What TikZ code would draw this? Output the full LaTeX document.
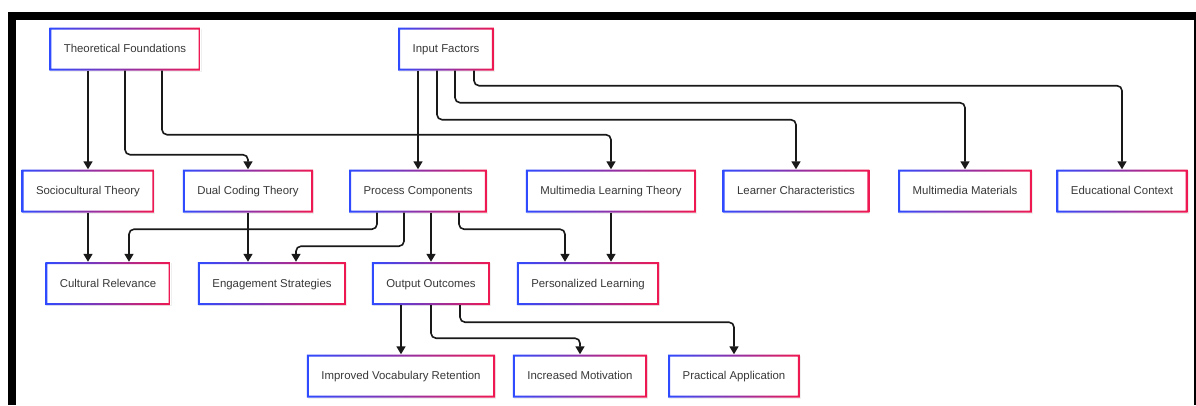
\documentclass[tikz,border=0pt]{standalone}
\usepackage{fontspec}
\setmainfont{Liberation Sans}
\usepackage{xcolor}
\usepackage{tikz}
\usetikzlibrary{arrows.meta}
\usetikzlibrary{shadows}
\definecolor{edgeBlue}{HTML}{2F4BFF}
\definecolor{edgeRed}{HTML}{F01850}
\colorlet{label}{black!78}
\colorlet{wire}{black!90}
\tikzset{
  % node options
  box/.style={rectangle,fill=white,text=label,
    font=\fontsize{11.4}{13}\selectfont,
    text height=9.5pt,text depth=2pt,
    minimum height=43pt,inner xsep=14.5pt,
    drop shadow={opacity=0.12,shadow xshift=1pt,shadow yshift=-1pt},
    path picture={
      \shade[left color=edgeBlue,right color=edgeRed,even odd rule]
        (path picture bounding box.south west) rectangle (path picture bounding box.north east)
        ([shift={(2pt,2pt)}]path picture bounding box.south west)
        rectangle ([shift={(-2pt,-2pt)}]path picture bounding box.north east);
    }},
  % path options
  flow/.style={draw=wire,line width=1.6pt,rounded corners=5pt,
    -{Triangle[width=9pt,length=8pt]}},
}

\begin{document}
\begin{tikzpicture}[x=1pt,y=-1pt]
  \useasboundingbox[fill=white] (0,0) rectangle (1196,405);
  \fill[black] (8,12) rectangle (1196,20);
  \fill[black] (8,12) rectangle (16,405);
  \fill[black] (1194,12) rectangle (1196,405);

  \node[box] (tf) at (125,49) {Theoretical Foundations};
  \node[box] (input) at (446,49) {Input Factors};

  \node[box] (sct) at (88,191) {Sociocultural Theory};
  \node[box] (dct) at (248,191) {Dual Coding Theory};
  \node[box] (pc) at (418,191) {Process Components};
  \node[box] (mlt) at (611,191) {Multimedia Learning Theory};
  \node[box] (lc) at (796,191) {Learner Characteristics};
  \node[box] (mm) at (965,191) {Multimedia Materials};
  \node[box] (ec) at (1122,191) {Educational Context};

  \node[box] (cr) at (108,283.5) {Cultural Relevance};
  \node[box] (es) at (272,283.5) {Engagement Strategies};
  \node[box] (oo) at (431,283.5) {Output Outcomes};
  \node[box] (pl) at (588,283.5) {Personalized Learning};

  \node[box] (ivr) at (401,376) {Improved Vocabulary Retention};
  \node[box] (im) at (580,376) {Increased Motivation};
  \node[box] (pa) at (734,376) {Practical Application};

  % theories
  \draw[flow] (tf.south -| sct.north) -- (sct.north);
  \draw[flow] (tf.south) -- ++(0,84) -| (dct.north);
  \draw[flow] ([xshift=37pt]tf.south) -- ++(0,64) -| (mlt.north);

  % inputs
  \draw[flow] (input.south -| pc.north) -- (pc.north);
  \draw[flow] ([xshift=-9pt]input.south) -- ++(0,49) -| (lc.north);
  \draw[flow] ([xshift=9pt]input.south) -- ++(0,32) -| (mm.north);
  \draw[flow] ([xshift=28pt]input.south) -- ++(0,15) -| (ec.north);

  % process
  \draw[flow] (sct.south) -- (sct.south |- cr.north);
  \draw[flow] (dct.south) -- (dct.south |- es.north);
  \draw[flow] (mlt.south) -- (mlt.south |- pl.north);
  \draw[flow] ([xshift=-41pt]pc.south) -- ++(0,16.5) -| ([xshift=21pt]cr.north);
  \draw[flow] ([xshift=-14pt]pc.south) -- ++(0,33.5) -| ([xshift=24pt]es.north);
  \draw[flow] (pc.south -| oo.north) -- (oo.north);
  \draw[flow] ([xshift=41pt]pc.south) -- ++(0,16.5) -| ([xshift=-23pt]pl.north);

  % outcomes
  \draw[flow] (oo.south -| ivr.north) -- (ivr.north);
  \draw[flow] (oo.south) -- ++(0,33) -| (im.north);
  \draw[flow] ([xshift=29pt]oo.south) -- ++(0,17) -| (pa.north);
\end{tikzpicture}
\end{document}
